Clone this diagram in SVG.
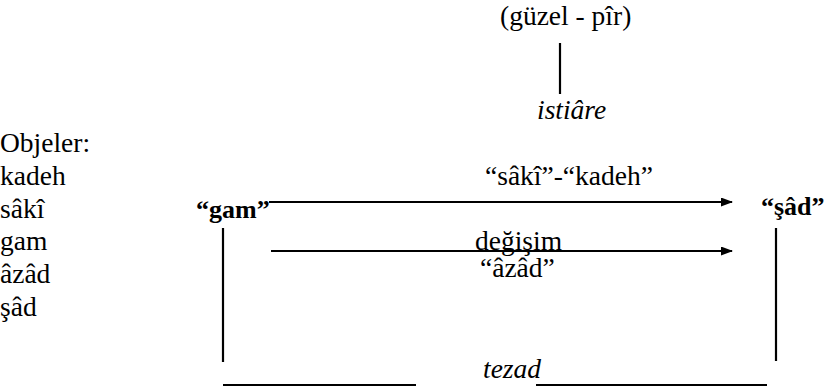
<svg xmlns="http://www.w3.org/2000/svg" width="825" height="390" viewBox="0 0 825 390">
<defs>
<marker id="ah" markerWidth="12" markerHeight="9" refX="11" refY="4.5" orient="auto" markerUnits="userSpaceOnUse">
<path d="M0,0 L12,4.5 L0,9 Z" fill="#000"/>
</marker>
</defs>
<rect width="825" height="390" fill="#fff"/>
<g id="top" font-family="Liberation Serif" font-size="27.5" fill="#000">
<text x="500" y="25">(güzel - pîr)</text>
<text font-style="italic" x="537" y="119">istiâre</text>
</g>
<g id="objeler" font-family="Liberation Serif" font-size="27.5" fill="#000">
<text x="0" y="152">Objeler:</text>
<text x="0" y="185">kadeh</text>
<text x="0" y="218">sâkî</text>
<text x="0" y="250">gam</text>
<text x="0" y="283">âzâd</text>
<text x="0" y="316">şâd</text>
</g>
<g id="gam" font-family="Liberation Serif" font-size="26" font-weight="bold" fill="#000"><text x="196" y="218">“gam”</text></g>
<g id="sad" font-family="Liberation Serif" font-size="26" font-weight="bold" fill="#000"><text x="761" y="215">“şâd”</text></g>
<g id="labels" font-family="Liberation Serif" font-size="27.5" fill="#000">
<text x="485" y="185">“sâkî”-“kadeh”</text>
<text x="475" y="250">değişim</text>
<text x="480" y="277">“âzâd”</text>
<text font-style="italic" x="483" y="378">tezad</text>
</g>
<g id="connectors" stroke="#000" stroke-width="2.2" fill="none">
<line x1="560" y1="43" x2="560" y2="94"/>
<line x1="269" y1="202" x2="732" y2="202" marker-end="url(#ah)"/>
<line x1="271" y1="251" x2="732" y2="251" marker-end="url(#ah)"/>
<line x1="223" y1="228" x2="223" y2="362"/>
<line x1="776" y1="228" x2="776" y2="361"/>
<line x1="223" y1="385" x2="416" y2="385"/>
<line x1="536" y1="385" x2="767" y2="385"/>
</g>
</svg>
